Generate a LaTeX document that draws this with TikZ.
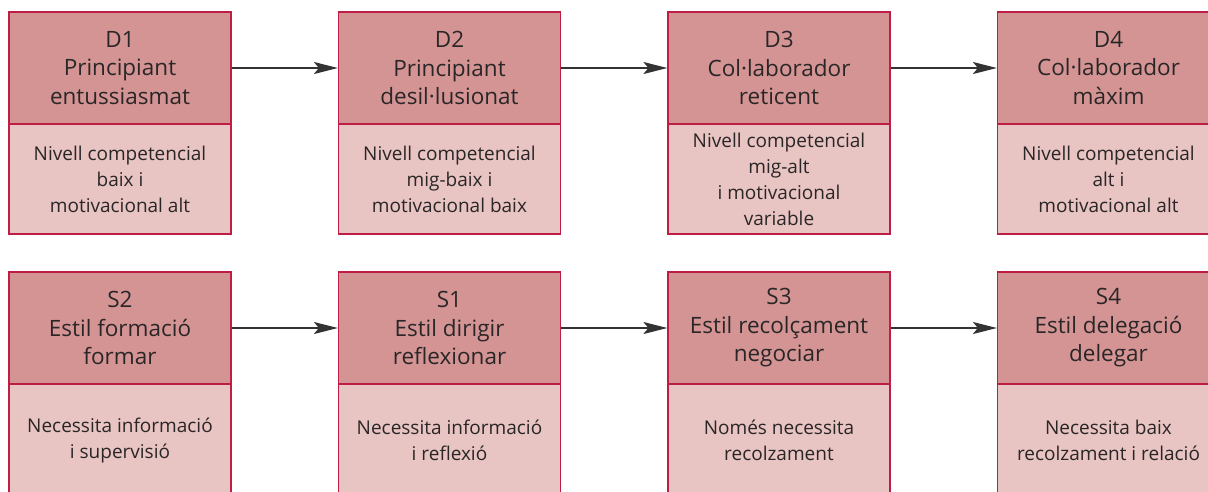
\documentclass[tikz,border=0pt]{standalone}
\usepackage{fontspec}
\setmainfont{Open Sans}
\usepackage{tikz}
\usetikzlibrary{arrows.meta}
\definecolor{headred}{HTML}{D49494}
\definecolor{bodyred}{HTML}{E8C4C2}
\definecolor{framered}{HTML}{BE1E45}
\definecolor{textgray}{HTML}{2A2627}

\begin{document}
\begin{tikzpicture}[x=1pt,y=-1pt]
\tikzstyle{head}=[draw=framered,fill=headred,line width=1.2pt,minimum width=222pt,minimum height=112pt,align=center,text=textgray,font=\fontsize{22.5}{28.5}\selectfont,inner sep=0pt];
\tikzstyle{body}=[draw=framered,fill=bodyred,line width=1.2pt,minimum width=222pt,minimum height=110pt,align=center,text=textgray,font=\fontsize{19}{26}\selectfont,inner sep=0pt];
\tikzstyle{arr}=[-{Stealth[length=24pt,width=12pt,inset=5pt]},line width=1.4pt,draw=black!80];
\useasboundingbox (0,0) rectangle (1208,491);
% D row
\path (120,68) node[head] (d1) {D1\\Principiant\\entussiasmat};
\path (449.5,68) node[head] (d2) {D2\\Principiant\\desil·lusionat};
\path (779,68) node[head] (d3) {D3\\Col·laborador\\reticent};
\path (1108.5,68) node[head] (d4) {D4\\Col·laborador\\màxim};
\path (120,179) node[body] (d1b) {Nivell competencial\\baix i\\motivacional alt};
\path (449.5,179) node[body] (d2b) {Nivell competencial\\mig-baix i\\motivacional baix};
\path (779,179) node[body] (d3b) {Nivell competencial\\mig-alt\\i motivacional\\variable};
\path (1108.5,179) node[body] (d4b) {Nivell competencial\\alt i\\motivacional alt};
% S row
\path (120,328) node[head] (s2) {S2\\Estil formació\\formar};
\path (449.5,328) node[head] (s1) {S1\\Estil dirigir\\reflexionar};
\path (779,328) node[head] (s3) {S3\\Estil recolçament\\negociar};
\path (1108.5,328) node[head] (s4) {S4\\Estil delegació\\delegar};
\path (120,440) node[body,minimum height=112pt] (s2b) {Necessita informació\\i supervisió};
\path (449.5,440) node[body,minimum height=112pt] (s1b) {Necessita informació\\i reflexió};
\path (779,440) node[body,minimum height=112pt] (s3b) {Només necessita\\recolzament};
\path (1108.5,440) node[body,minimum height=112pt] (s4b) {Necessita baix\\recolzament i relació};
\draw[arr] (d1) -- (d2);
\draw[arr] (d2) -- (d3);
\draw[arr] (d3) -- (d4);
\draw[arr] (s2) -- (s1);
\draw[arr] (s1) -- (s3);
\draw[arr] (s3) -- (s4);
\end{tikzpicture}
\end{document}
